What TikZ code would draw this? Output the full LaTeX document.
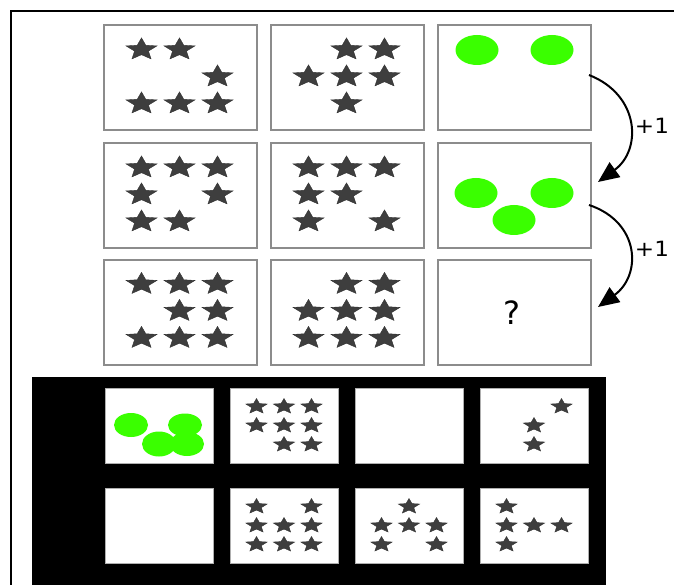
\documentclass[tikz,border=0pt]{standalone}
\usepackage{fontspec}
\setmainfont{DejaVu Sans}
\usetikzlibrary{arrows.meta}
\definecolor{blobgreen}{RGB}{58,255,0}
\definecolor{stargray}{RGB}{62,62,62}
\definecolor{boxgray}{RGB}{140,140,140}
\tikzset{
  cell/.style={draw=boxgray,line width=1.6pt,fill=white,minimum width=153pt,minimum height=105pt,inner sep=0pt,anchor=north west},
  smallcell/.style={draw=boxgray!70,line width=0.6pt,fill=white,minimum width=108pt,minimum height=75pt,inner sep=0pt,anchor=north west},
  blob/.style={fill=blobgreen},
  starfill/.style={fill=stargray,draw=stargray!80!black,line width=0.4pt},
  curvearrow/.style={line width=2pt,-{Triangle[length=21pt,width=18pt]}},
  plabel/.style={font=\fontsize{21}{21}\selectfont,inner sep=0pt,xscale=1.1}
}
% star at (x,y) with outer radius r (vertical), stretched horizontally
\newcommand{\pstar}[3]{%
  \fill[starfill,shift={({#1},{#2})},xscale=1.4]
    (-90:#3) -- (-54:0.45*#3) -- (-18:#3) -- (18:0.45*#3) -- (54:#3) -- (90:0.45*#3)
    -- (126:#3) -- (162:0.45*#3) -- (198:#3) -- (234:0.45*#3) -- cycle;}
% big star in 3x3 grid of cell centred at (cx,cy): row r, col c
\newcommand{\gstar}[4]{\pstar{#1+38*(#4-2)}{#2+27*(#3-2)}{11.6}}
\newcommand{\sstar}[4]{\pstar{#1+27.5*(#4-2)}{#2+19*(#3-2)}{8}}
\begin{document}
\begin{tikzpicture}[x=1pt,y=-1pt]
\useasboundingbox (0,0) rectangle (674,585);
\fill[white] (0,0) rectangle (674,585);
% outer frame
\draw[line width=2.2pt] (11,585) -- (11,11) -- (674,11);

% top grid
\node[cell] (b11) at (103,24) {};
\node[cell] (b12) at (270,24) {};
\node[cell] (b13) at (437,24) {};
\node[cell] (b21) at (103,142) {};
\node[cell] (b22) at (270,142) {};
\node[cell] (b23) at (437,142) {};
\node[cell] (b31) at (103,259) {};
\node[cell] (b32) at (270,259) {};
\node[cell] (b33) at (437,259) {};

% box 11
\foreach \r/\c in {1/1,1/2,2/3,3/1,3/2,3/3} {\gstar{179.5}{76.5}{\r}{\c}}
% box 12
\foreach \r/\c in {1/2,1/3,2/1,2/2,2/3,3/2} {\gstar{346.5}{76.5}{\r}{\c}}
% box 21
\foreach \r/\c in {1/1,1/2,1/3,2/1,2/3,3/1,3/2} {\gstar{179.5}{194.5}{\r}{\c}}
% box 22
\foreach \r/\c in {1/1,1/2,1/3,2/1,2/2,3/1,3/3} {\gstar{346.5}{194.5}{\r}{\c}}
% box 31
\foreach \r/\c in {1/1,1/2,1/3,2/2,2/3,3/1,3/2,3/3} {\gstar{179.5}{311}{\r}{\c}}
% box 32
\foreach \r/\c in {1/2,1/3,2/1,2/2,2/3,3/1,3/2,3/3} {\gstar{346.5}{311}{\r}{\c}}

% green blobs
\fill[blob] (477,50) ellipse [x radius=21.5,y radius=15];
\fill[blob] (552,50) ellipse [x radius=21.5,y radius=15];
\fill[blob] (476,193) ellipse [x radius=21.5,y radius=15];
\fill[blob] (552,193) ellipse [x radius=21.5,y radius=15];
\fill[blob] (514,220) ellipse [x radius=21.5,y radius=15];

\node[font=\fontsize{32}{32}\selectfont,inner sep=0pt] (q) at (512,313) {?};

% arrows
\coordinate (s1) at (589,75);
\coordinate (e1) at (598,182);
\coordinate (s2) at (589,205);
\coordinate (e2) at (598,307);
\draw[curvearrow] (s1) .. controls (640,95) and (642,150) .. (e1);
\draw[curvearrow] (s2) .. controls (640,222) and (642,275) .. (e2);
\node[plabel] (l1) at (652,126) {+1};
\node[plabel] (l2) at (652,249) {+1};

% answer panel
\fill[black] (32,377) rectangle (606,585);
\node[smallcell] (a11) at (105,388) {};
\node[smallcell] (a12) at (230,388) {};
\node[smallcell] (a13) at (355,388) {};
\node[smallcell] (a14) at (480,388) {};
\node[smallcell] (a21) at (105,488) {};
\node[smallcell] (a22) at (230,488) {};
\node[smallcell] (a23) at (355,488) {};
\node[smallcell] (a24) at (480,488) {};

\fill[blob] (131,425) ellipse [x radius=17,y radius=12];
\fill[blob] (185,425) ellipse [x radius=17,y radius=11.5];
\fill[blob] (159,444) ellipse [x radius=17,y radius=12.5];
\fill[blob] (187,444) ellipse [x radius=17,y radius=12];

\foreach \r/\c in {1/1,1/2,1/3,2/1,2/2,2/3,3/2,3/3} {\sstar{284}{425.5}{\r}{\c}}
\foreach \r/\c in {1/3,2/2,3/2} {\sstar{534}{425.5}{\r}{\c}}
\foreach \r/\c in {1/1,1/3,2/1,2/2,2/3,3/1,3/2,3/3} {\sstar{284}{525.5}{\r}{\c}}
\foreach \r/\c in {1/2,2/1,2/2,2/3,3/1,3/3} {\sstar{409}{525.5}{\r}{\c}}
\foreach \r/\c in {1/1,2/1,2/2,2/3,3/1} {\sstar{534}{525.5}{\r}{\c}}
\end{tikzpicture}
\end{document}
